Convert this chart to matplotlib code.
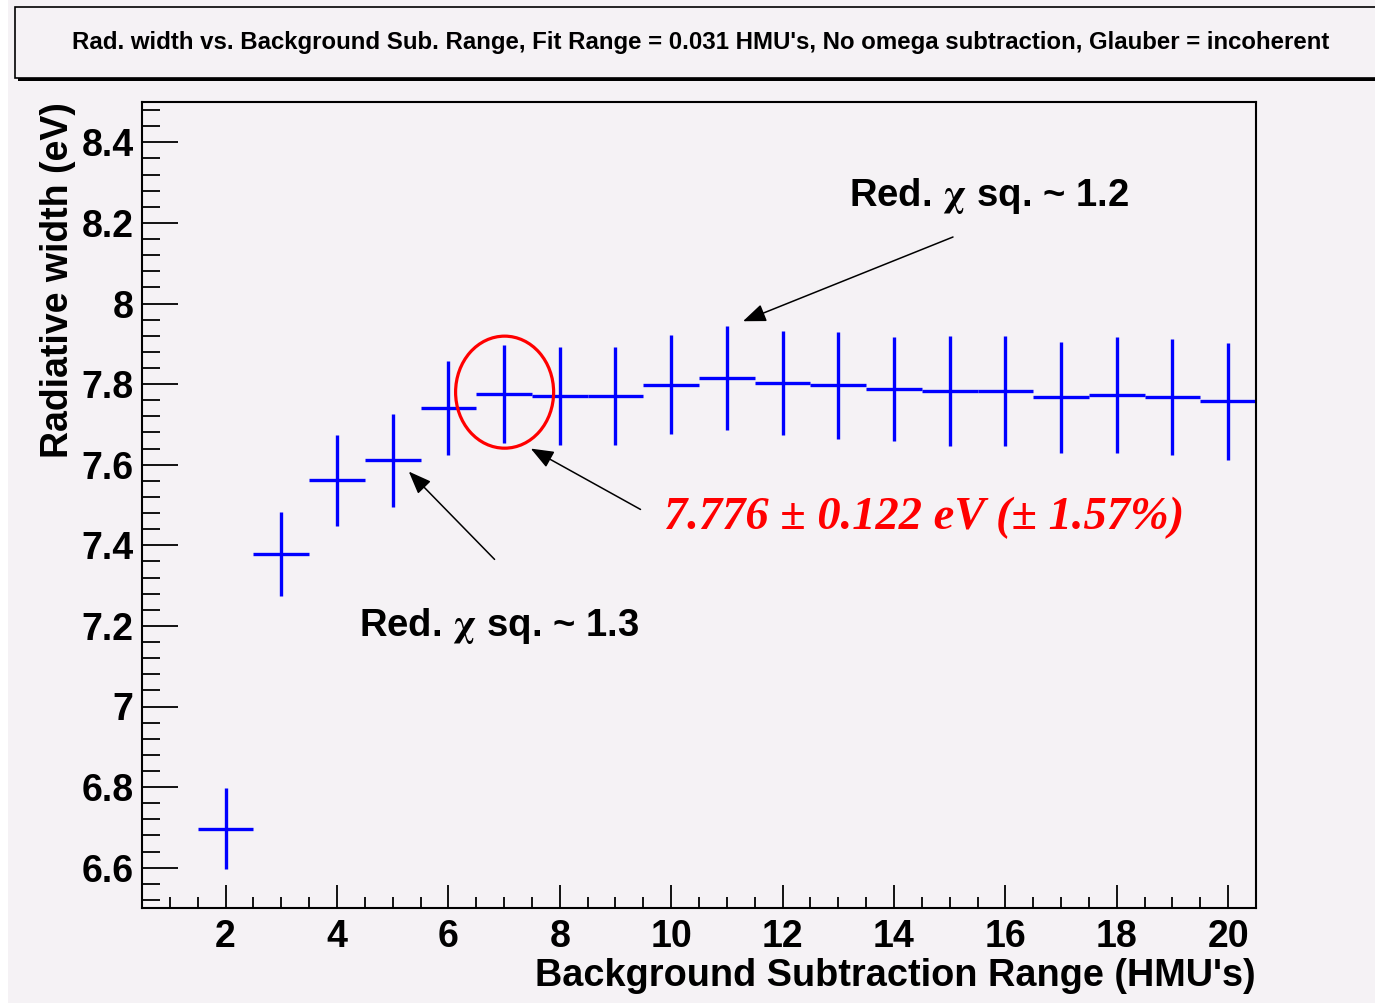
#!/usr/bin/env python3

"""Radiative width vs background subtraction range (ROOT-style replot)."""

import matplotlib
matplotlib.use("Agg")
import matplotlib.pyplot as plt
from matplotlib.patches import Rectangle, Ellipse
from matplotlib.ticker import MultipleLocator

# data
bg_range = [2, 3, 4, 5, 6, 7, 8, 9, 10, 11, 12, 13, 14, 15, 16, 17, 18, 19, 20]
rad_width = [6.697, 7.378, 7.561, 7.611, 7.740, 7.776, 7.770, 7.770, 7.799, 7.815,
             7.802, 7.797, 7.788, 7.783, 7.783, 7.767, 7.772, 7.767, 7.757]
rad_err = [0.101, 0.105, 0.113, 0.116, 0.117, 0.122, 0.121, 0.121, 0.123, 0.129,
           0.129, 0.132, 0.130, 0.137, 0.137, 0.137, 0.144, 0.144, 0.145]
bin_half = 0.5

title = ("Rad. width vs. Background Sub. Range, Fit Range = 0.031 HMU's, "
         "No omega subtraction, Glauber = incoherent")
result_label = "7.776 \u00b1 0.122 eV (\u00b1 1.57%)"

BG = "#f5f2f5"
W, H = 1375, 1006

plt.rcParams["font.family"] = ["Liberation Sans", "DejaVu Sans"]
plt.rcParams["font.weight"] = "bold"
plt.rcParams["mathtext.fontset"] = "stix"


def main():
    fig = plt.figure(figsize=(W / 100, H / 100), dpi=100, facecolor="white")
    # pinkish page, with thin white strip on left/bottom
    fig.patches.append(Rectangle((8 / W, 3 / H), 1, 1, transform=fig.transFigure,
                                 facecolor=BG, edgecolor="none", zorder=-10))

    # title box with ROOT shadow
    fig.patches.append(Rectangle((18 / W, (H - 81) / H), 1, 71 / H, transform=fig.transFigure,
                                 facecolor="black", edgecolor="none", zorder=0))
    fig.patches.append(Rectangle((15 / W, (H - 78) / H), 1, 71 / H, transform=fig.transFigure,
                                 facecolor=BG, edgecolor="black", linewidth=1.2, zorder=1))
    fig.text(701 / W, 1 - 42 / H, title, ha="center", va="center",
             fontsize=17.3, fontweight="bold", zorder=2)

    ax = fig.add_axes([142 / W, (H - 908) / H, (1256 - 142) / W, (908 - 102) / H])
    ax.set_facecolor(BG)

    ax.errorbar(bg_range, rad_width, xerr=bin_half, yerr=rad_err, fmt="none",
                ecolor="blue", elinewidth=2.4, capsize=0)

    ax.set_xlim(0.5, 20.5)
    ax.set_ylim(6.5, 8.5)
    ax.xaxis.set_major_locator(MultipleLocator(2))
    ax.xaxis.set_minor_locator(MultipleLocator(0.5))
    ax.yaxis.set_major_locator(MultipleLocator(0.2))
    ax.yaxis.set_minor_locator(MultipleLocator(0.04))
    ax.set_xticks(range(2, 21, 2))
    ax.set_yticks([6.6, 6.8, 7.0, 7.2, 7.4, 7.6, 7.8, 8.0, 8.2, 8.4])
    ax.set_yticklabels(["6.6", "6.8", "7", "7.2", "7.4", "7.6", "7.8", "8", "8.2", "8.4"])

    ax.tick_params(axis="y", which="major", direction="in", length=26, width=1.3,
                   labelsize=27, pad=6)
    ax.tick_params(axis="y", which="minor", direction="in", length=13, width=1.3)
    ax.tick_params(axis="x", which="major", direction="in", length=16.5, width=1.3,
                   labelsize=27, pad=8)
    ax.tick_params(axis="x", which="minor", direction="in", length=8, width=1.3)
    for sp in ax.spines.values():
        sp.set_linewidth(1.5)

    ax.set_xlabel("Background Subtraction Range (HMU's)", fontsize=27.3, fontweight="bold",
                  loc="right", labelpad=2)
    ax.set_ylabel("Radiative width (eV)", fontsize=27, fontweight="bold",
                  loc="top", labelpad=4)

    # annotations
    arrow = dict(arrowstyle="-|>,head_length=1.4,head_width=0.55", color="black", lw=1.1,
                 shrinkA=0, shrinkB=0)
    ax.annotate("", xy=(11.29, 7.956), xytext=(15.06, 8.165), arrowprops=arrow)
    ax.annotate("", xy=(5.29, 7.583), xytext=(6.83, 7.365), arrowprops=arrow)
    ax.annotate("", xy=(7.48, 7.640), xytext=(9.45, 7.489), arrowprops=arrow)

    chi_text = r"Red. $\mathrm{\chi}$ sq. ~ {}"
    ax.text(13.19, 8.266, chi_text.replace("{}", "1.2"), fontsize=27.5, fontweight="bold",
            ha="left", va="center")
    ax.text(4.39, 7.199, chi_text.replace("{}", "1.3"), fontsize=27.5, fontweight="bold",
            ha="left", va="center")
    ax.text(9.87, 7.469, result_label, fontsize=33.5, color="red", fontweight="bold",
            fontstyle="italic", family=["Liberation Serif", "DejaVu Serif"],
            ha="left", va="center")

    ax.add_patch(Ellipse((7.01, 7.78), 1.76, 0.278, fill=False, edgecolor="red",
                         linewidth=2.3, zorder=5))

    fig.savefig("out.png", dpi=100, facecolor=fig.get_facecolor())


if __name__ == "__main__":
    main()
